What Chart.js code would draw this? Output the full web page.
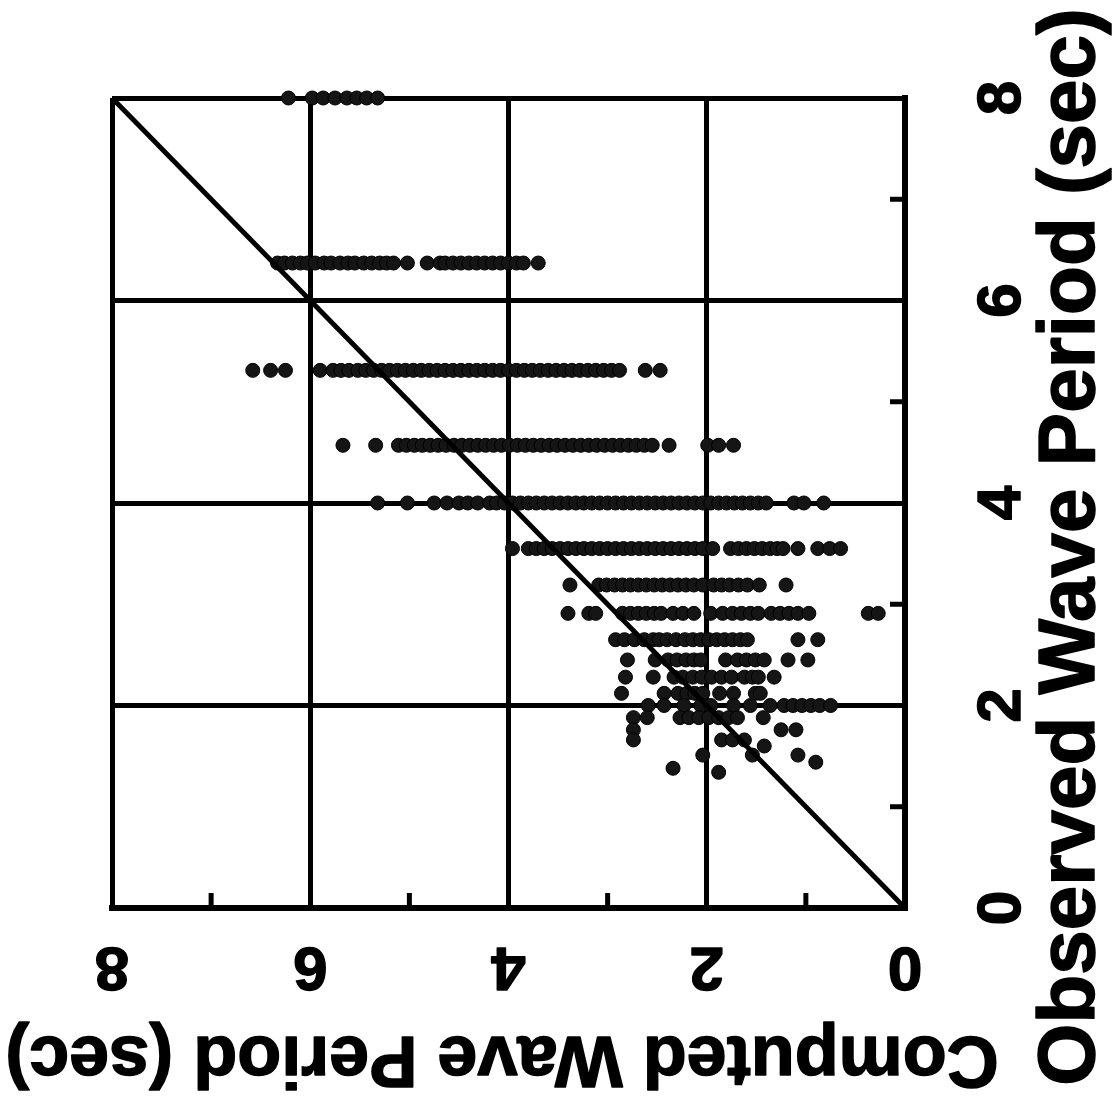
<!DOCTYPE html>
<html>
<head>
<meta charset="utf-8">
<script src="https://cdn.jsdelivr.net/npm/chart.js@4.4.0/dist/chart.umd.min.js"></script>
<style>
  html, body { margin: 0; padding: 0; background: #fff; }
</style>
</head>
<body>
<canvas id="chart" width="1116" height="1101"></canvas>
<script>
// wave periods come in discrete observed levels, one row of points per level
const observedRows = [8.0, 6.37, 5.31, 4.57, 4.0, 3.55, 3.19, 2.91, 2.65, 2.45, 2.28, 2.12, 2.0, 1.88, 1.76, 1.66, 1.60, 1.51, 1.44, 1.38, 1.34];

// computed periods read along each observed row
const computedRows = [
  [6.22, 5.98, 5.87, 5.75, 5.63, 5.53, 5.43, 5.32],
  [6.33, 6.26, 6.18, 6.10, 6.03, 5.95, 5.86, 5.79, 5.70, 5.62, 5.55, 5.46, 5.38, 5.30, 5.23, 5.16,
   5.02, 4.82, 4.69, 4.64, 4.56, 4.48, 4.40, 4.32, 4.24, 4.16, 4.08, 4.00, 3.92, 3.85, 3.70],
  [6.58, 6.40, 6.25, 5.90, 5.77, 5.69, 5.61, 5.52, 5.44, 5.36, 5.28, 5.20, 5.12, 5.04, 4.96, 4.88,
   4.80, 4.72, 4.64, 4.56, 4.48, 4.40, 4.32, 4.24, 4.16, 4.08, 4.00, 3.92, 3.84, 3.76, 3.68, 3.60,
   3.52, 3.44, 3.36, 3.28, 3.20, 3.12, 3.04, 2.96, 2.88, 2.62, 2.47],
  [5.67, 5.34, 5.11, 5.03, 4.95, 4.87, 4.79, 4.71, 4.63, 4.55, 4.47, 4.39, 4.31, 4.23, 4.15, 4.07,
   3.99, 3.91, 3.83, 3.75, 3.67, 3.59, 3.51, 3.43, 3.35, 3.27, 3.19, 3.11, 3.03, 2.95, 2.87, 2.79,
   2.71, 2.63, 2.55, 2.38, 1.99, 1.88, 1.73],
  [5.32, 5.02, 4.75, 4.62, 4.50, 4.41, 4.31, 4.19, 4.12, 4.04, 3.96, 3.88, 3.80, 3.72, 3.64, 3.56,
   3.48, 3.40, 3.32, 3.24, 3.16, 3.08, 3.00, 2.92, 2.84, 2.76, 2.68, 2.60, 2.52, 2.44, 2.36, 2.28,
   2.20, 2.12, 2.04, 1.96, 1.88, 1.80, 1.72, 1.64, 1.56, 1.48, 1.40, 1.12, 1.02, 0.82],
  [3.96, 3.80, 3.72, 3.64, 3.56, 3.48, 3.40, 3.32, 3.24, 3.16, 3.08, 3.00, 2.92, 2.84, 2.76, 2.68,
   2.60, 2.52, 2.44, 2.36, 2.28, 2.20, 2.12, 2.04, 1.94, 1.76, 1.68, 1.60, 1.52, 1.44, 1.36, 1.29,
   1.23, 1.08, 0.88, 0.76, 0.65],
  [3.38, 3.09, 3.01, 2.93, 2.85, 2.77, 2.69, 2.61, 2.53, 2.45, 2.37, 2.29, 2.21, 2.13, 2.04,
   1.93, 1.85, 1.77, 1.68, 1.59, 1.47, 1.20],
  [3.40, 3.19, 3.12, 2.85, 2.77, 2.69, 2.61, 2.53, 2.46, 2.34, 2.24, 2.13, 1.96, 1.84,
   1.74, 1.65, 1.56, 1.48, 1.35, 1.26, 1.17, 1.08, 0.97, 0.37, 0.27],
  [2.92, 2.83, 2.73, 2.63, 2.54, 2.48, 2.40, 2.31, 2.22, 2.14, 2.06, 1.98, 1.90, 1.82, 1.74,
   1.66, 1.59, 1.08, 0.88],
  [2.80, 2.52, 2.39, 2.30, 2.21, 2.13, 2.06, 1.81, 1.69, 1.60, 1.51, 1.42, 1.18, 0.98],
  [2.82, 2.54, 2.33, 2.24, 2.14, 2.05, 1.95, 1.85, 1.75, 1.62, 1.54, 1.48, 1.32],
  [2.86, 2.43, 2.29, 2.20, 2.12, 2.04, 1.87, 1.73, 1.51, 1.46],
  [2.59, 2.43, 2.23, 2.06, 1.96, 1.73, 1.56, 1.36, 1.22, 1.13, 1.04, 0.95, 0.86, 0.75],
  [2.74, 2.60, 2.27, 2.18, 2.08, 1.98, 1.88, 1.78, 1.69, 1.43],
  [2.74, 1.25, 1.10],
  [2.74, 1.85, 1.74, 1.62],
  [1.42],
  [2.04, 1.54, 1.08],
  [0.90],
  [2.34],
  [1.88]
];

const periodTicks = [0, 2, 4, 6, 8];
const minorTicks = [1, 3, 5, 7];
const perfectFit = [0, 8];
const xTitle = 'Computed Wave Period (sec)';
const yTitle = 'Observed Wave Period (sec)';

const points = [];
observedRows.forEach((obs, i) => {
  computedRows[i].forEach(c => points.push({ x: c, y: obs }));
});

// tick labels, axis titles and the short inner ticks are drawn by hand
// so they can be turned the same way as the page
const axisText = {
  id: 'axisText',
  afterDraw(chart) {
    const ctx = chart.ctx;
    const xs = chart.scales.x;
    const ys = chart.scales.y;
    const area = chart.chartArea;

    ctx.save();
    ctx.strokeStyle = '#000';
    ctx.lineWidth = 5;
    minorTicks.forEach(v => {
      const px = xs.getPixelForValue(v);
      ctx.beginPath();
      ctx.moveTo(px, area.bottom);
      ctx.lineTo(px, area.bottom - 15);
      ctx.stroke();
      const py = ys.getPixelForValue(v);
      ctx.beginPath();
      ctx.moveTo(area.right, py);
      ctx.lineTo(area.right - 15, py);
      ctx.stroke();
    });

    ctx.fillStyle = '#000';
    ctx.strokeStyle = '#000';
    ctx.lineWidth = 1.5;
    ctx.lineJoin = 'round';
    ctx.textAlign = 'center';
    ctx.textBaseline = 'middle';
    ctx.font = 'bold 62px "Liberation Sans", Arial, sans-serif';
    periodTicks.forEach(v => {
      ctx.save();
      ctx.translate(xs.getPixelForValue(v), 965);
      ctx.rotate(Math.PI);
      ctx.fillText(String(v), 0, 0);
      ctx.strokeText(String(v), 0, 0);
      ctx.restore();

      ctx.save();
      ctx.translate(1003, ys.getPixelForValue(v));
      ctx.rotate(-Math.PI / 2);
      ctx.fillText(String(v), 0, 0);
      ctx.strokeText(String(v), 0, 0);
      ctx.restore();
    });

    ctx.font = 'bold 72px "Liberation Sans", Arial, sans-serif';
    ctx.save();
    ctx.translate(502, 1057);
    ctx.rotate(Math.PI);
    ctx.fillText(xTitle, 0, 0);
    ctx.strokeText(xTitle, 0, 0);
    ctx.restore();

    ctx.font = 'bold 80px "Liberation Sans", Arial, sans-serif';
    ctx.save();
    ctx.translate(1072, 547);
    ctx.rotate(-Math.PI / 2);
    ctx.fillText(yTitle, 0, 0);
    ctx.strokeText(yTitle, 0, 0);
    ctx.restore();
    ctx.restore();
  }
};

const gridStyle = { color: '#000', lineWidth: 5, drawTicks: false };
const borderStyle = { color: '#000', width: 6 };

new Chart(document.getElementById('chart'), {
  type: 'scatter',
  data: {
    datasets: [
      {
        type: 'line',
        data: perfectFit.map(v => ({ x: v, y: v })),
        borderColor: '#000',
        borderWidth: 5,
        pointRadius: 0,
        fill: false
      },
      {
        data: points,
        pointRadius: 7,
        pointBackgroundColor: '#151515',
        pointBorderColor: '#000',
        pointBorderWidth: 1,
        clip: false
      }
    ]
  },
  options: {
    responsive: false,
    animation: false,
    layout: { padding: { left: 112, top: 98, right: 211, bottom: 193 } },
    plugins: {
      legend: { display: false },
      tooltip: { enabled: false }
    },
    scales: {
      x: {
        type: 'linear',
        reverse: true,
        min: 0,
        max: 8,
        ticks: { stepSize: 2, display: false },
        grid: gridStyle,
        border: borderStyle
      },
      y: {
        type: 'linear',
        position: 'right',
        min: 0,
        max: 8,
        ticks: { stepSize: 2, display: false },
        grid: gridStyle,
        border: borderStyle
      }
    }
  },
  plugins: [axisText]
});
</script>
</body>
</html>
